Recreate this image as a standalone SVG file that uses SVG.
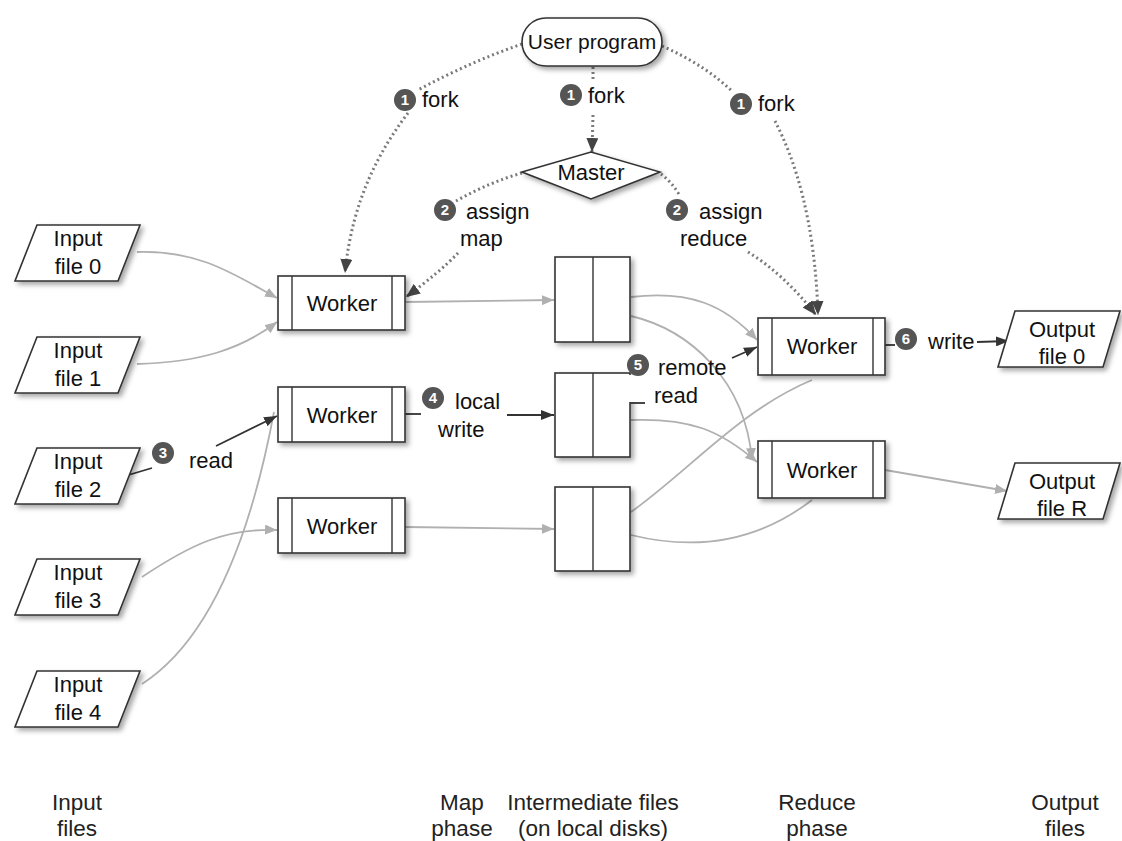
<svg xmlns="http://www.w3.org/2000/svg" width="1122" height="841" viewBox="0 0 1122 841">
<style>
text{font-family:"Liberation Sans",Arial,sans-serif;font-size:22px;fill:#111}
.c{text-anchor:middle}
.b{font-size:22.5px;text-anchor:middle;fill:#222}
.num{font-size:15px;font-weight:bold;fill:#fff;text-anchor:middle}
.nc{fill:#555}
.box{fill:#fff;stroke:#333;stroke-width:1.6}
.in{stroke:#333;stroke-width:1.4;fill:none}
.g{fill:none;stroke:#b0b0b0;stroke-width:1.8}
.d{fill:none;stroke:#333;stroke-width:1.8}
.dot{fill:none;stroke:#7a7a7a;stroke-width:3;stroke-dasharray:2 3}
</style>
<defs>
<filter id="sh" x="-20%" y="-20%" width="150%" height="160%">
<feDropShadow dx="3" dy="3" stdDeviation="2.5" flood-color="#000" flood-opacity="0.35"/>
</filter>
<marker id="ag" markerUnits="userSpaceOnUse" markerWidth="12" markerHeight="10" refX="12" refY="5" orient="auto"><path d="M0,0 L12,5 L0,10 z" fill="#b0b0b0"/></marker>
<marker id="ad" markerUnits="userSpaceOnUse" markerWidth="13" markerHeight="10" refX="13" refY="5" orient="auto"><path d="M0,0 L13,5 L0,10 z" fill="#333"/></marker>
<marker id="at" markerUnits="userSpaceOnUse" markerWidth="14" markerHeight="12" refX="14" refY="6" orient="auto"><path d="M0,0 L14,6 L0,12 z" fill="#444"/></marker>
</defs>
<rect width="1122" height="841" fill="#fff"/>

<g id="connectors">
<path class="g" d="M137,252 C200,250 235,275 277,298" marker-end="url(#ag)"/>
<path class="g" d="M137,364 C200,362 240,350 277,322" marker-end="url(#ag)"/>
<path class="g" d="M142,577 C190,545 225,528 277,530" marker-end="url(#ag)"/>
<path class="g" d="M142,684 C210,640 250,540 274,412"/>
<path class="d" d="M125,476 L152,468"/>
<path class="d" d="M216,446 L277,416" marker-end="url(#ad)"/>
<path class="g" d="M405,302 L554,300" marker-end="url(#ag)"/>
<path class="d" d="M405,414 L421,414"/>
<path class="d" d="M507,415 L554,415" marker-end="url(#ad)"/>
<path class="g" d="M405,527 L554,529" marker-end="url(#ag)"/>
<path class="g" d="M631,297 C690,290 725,305 757,340" marker-end="url(#ag)"/>
<path class="g" d="M631,316 C690,330 745,380 752,460" marker-end="url(#ag)"/>
<path class="g" d="M631,420 C690,418 720,430 757,462" marker-end="url(#ag)"/>
<path class="g" d="M631,512 C690,470 740,410 812,380"/>
<path class="g" d="M631,535 C700,552 760,540 812,500"/>
<path class="d" d="M732,358 L757,347" marker-end="url(#ad)"/>
<path class="d" d="M885,345 L895,345"/>
<path class="d" d="M977,342 L1009,341" marker-end="url(#ad)"/>
<path class="g" d="M885,470 L1007,491" marker-end="url(#ag)"/>
<path class="dot" d="M522,44 Q470,62 418,90"/>
<path class="dot" d="M408,113 C380,150 352,200 345,273" marker-end="url(#at)"/>
<path class="dot" d="M593,67 L593,82"/>
<path class="dot" d="M593,115 L592,152" marker-end="url(#at)"/>
<path class="dot" d="M662,46 Q705,65 733,92"/>
<path class="dot" d="M775,121 C795,160 815,220 818,315" marker-end="url(#at)"/>
<path class="dot" d="M522,173 Q490,182 456,201"/>
<path class="dot" d="M458,253 Q440,272 406,297" marker-end="url(#at)"/>
<path class="dot" d="M661,174 Q672,182 680,196"/>
<path class="dot" d="M748,252 Q785,275 816,315" marker-end="url(#at)"/>
</g>

<g id="user-program">
<rect class="box" x="522" y="18" width="140" height="48" rx="24" filter="url(#sh)"/>
<text class="c" x="592" y="49" style="font-size:21px">User program</text>
</g>
<g id="master">
<polygon class="box" points="522,172 591,152 660,172 591,199" filter="url(#sh)"/>
<text class="c" x="591" y="180">Master</text>
</g>

<g id="input-file-0">
<polygon class="box" points="37,225 140,225 118,281 15,281" filter="url(#sh)"/>
<text class="c" x="78" y="246">Input</text><text class="c" x="78" y="274">file 0</text>
</g>
<g id="input-file-1">
<polygon class="box" points="37,337 140,337 118,393 15,393" filter="url(#sh)"/>
<text class="c" x="78" y="358">Input</text><text class="c" x="78" y="386">file 1</text>
</g>
<g id="input-file-2">
<polygon class="box" points="37,448 140,448 118,504 15,504" filter="url(#sh)"/>
<text class="c" x="78" y="469">Input</text><text class="c" x="78" y="497">file 2</text>
</g>
<g id="input-file-3">
<polygon class="box" points="37,559 140,559 118,615 15,615" filter="url(#sh)"/>
<text class="c" x="78" y="580">Input</text><text class="c" x="78" y="608">file 3</text>
</g>
<g id="input-file-4">
<polygon class="box" points="37,671 140,671 118,727 15,727" filter="url(#sh)"/>
<text class="c" x="78" y="692">Input</text><text class="c" x="78" y="720">file 4</text>
</g>

<g id="map-worker-1">
<rect class="box" x="278" y="276" width="127" height="54" filter="url(#sh)"/>
<path class="in" d="M292,276 V330 M392,276 V330"/>
<text class="c" x="342" y="311">Worker</text>
</g>
<g id="map-worker-2">
<rect class="box" x="278" y="387" width="127" height="55" filter="url(#sh)"/>
<path class="in" d="M292,387 V442 M392,387 V442"/>
<text class="c" x="342" y="423">Worker</text>
</g>
<g id="map-worker-3">
<rect class="box" x="278" y="498" width="127" height="55" filter="url(#sh)"/>
<path class="in" d="M292,498 V553 M392,498 V553"/>
<text class="c" x="342" y="534">Worker</text>
</g>

<g id="intermediate-1">
<rect class="box" x="555" y="257" width="75" height="85" filter="url(#sh)"/>
<path class="in" d="M593,257 V342"/>
</g>
<g id="intermediate-2">
<rect class="box" x="555" y="373" width="75" height="84" filter="url(#sh)"/>
<path class="in" d="M593,373 V457"/>
<rect x="629" y="375" width="40" height="27" fill="#fff"/>
<path class="d" d="M630,403 L645,403"/>
</g>
<g id="intermediate-3">
<rect class="box" x="555" y="487" width="75" height="84" filter="url(#sh)"/>
<path class="in" d="M593,487 V571"/>
</g>

<g id="reduce-worker-1">
<rect class="box" x="758" y="318" width="127" height="57" filter="url(#sh)"/>
<path class="in" d="M772,318 V375 M873,318 V375"/>
<text class="c" x="822" y="354">Worker</text>
</g>
<g id="reduce-worker-2">
<rect class="box" x="758" y="441" width="127" height="57" filter="url(#sh)"/>
<path class="in" d="M772,441 V498 M873,441 V498"/>
<text class="c" x="822" y="478">Worker</text>
</g>

<g id="output-file-0">
<polygon class="box" points="1015,311 1120,311 1103,367 998,367" filter="url(#sh)"/>
<text class="c" x="1062" y="337">Output</text><text class="c" x="1062" y="364">file 0</text>
</g>
<g id="output-file-R">
<polygon class="box" points="1015,463 1120,463 1103,519 998,519" filter="url(#sh)"/>
<text class="c" x="1062" y="489">Output</text><text class="c" x="1062" y="516">file R</text>
</g>

<g id="labels">
<circle class="nc" cx="405" cy="100" r="11"/><text class="num" x="405" y="105">1</text><text x="422" y="107">fork</text>
<circle class="nc" cx="571" cy="95" r="11"/><text class="num" x="571" y="100">1</text><text x="588" y="103">fork</text>
<circle class="nc" cx="741" cy="104" r="11"/><text class="num" x="741" y="109">1</text><text x="758" y="111">fork</text>
<circle class="nc" cx="445" cy="210" r="11"/><text class="num" x="445" y="215">2</text><text x="466" y="219">assign</text><text x="460" y="246">map</text>
<circle class="nc" cx="677" cy="210" r="11"/><text class="num" x="677" y="215">2</text><text x="699" y="219">assign</text><text x="680" y="246">reduce</text>
<circle class="nc" cx="163" cy="453" r="11"/><text class="num" x="163" y="458">3</text><text x="189" y="468">read</text>
<circle class="nc" cx="433" cy="398" r="11"/><text class="num" x="433" y="403">4</text><text x="455" y="409">local</text><text x="438" y="437">write</text>
<circle class="nc" cx="638" cy="365" r="11"/><text class="num" x="638" y="370">5</text><text x="658" y="375">remote</text><text x="654" y="403">read</text>
<circle class="nc" cx="906" cy="339" r="11"/><text class="num" x="906" y="344">6</text><text x="928" y="349">write</text>
</g>

<g id="phase-labels">
<text class="b" x="77" y="810">Input</text><text class="b" x="77" y="836">files</text>
<text class="b" x="462" y="810">Map</text><text class="b" x="462" y="836">phase</text>
<text class="b" x="593" y="810">Intermediate files</text><text class="b" x="593" y="836">(on local disks)</text>
<text class="b" x="817" y="810">Reduce</text><text class="b" x="817" y="836">phase</text>
<text class="b" x="1065" y="810">Output</text><text class="b" x="1065" y="836">files</text>
</g>
</svg>
